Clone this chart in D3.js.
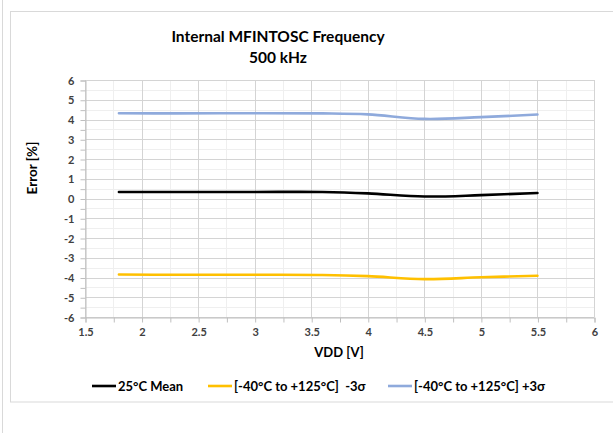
<!DOCTYPE html>
<html><head><meta charset="utf-8">
<script src="https://cdn.jsdelivr.net/npm/d3@7"></script>
<style>
body{margin:0;background:#fff;}
svg{display:block;font-family:Lato,"Open Sans",sans-serif;}
</style></head>
<body><svg id="chart" width="613" height="433"></svg>
<script>
const vdd = [1.8, 2.3, 3.0, 3.6, 4.0, 4.5, 5.0, 5.5];
const mean25 = [0.33, 0.33, 0.33, 0.33, 0.26, 0.10, 0.17, 0.28];
const minus3s = [-3.85, -3.86, -3.86, -3.87, -3.93, -4.08, -3.99, -3.91];
const plus3s = [4.32, 4.31, 4.32, 4.31, 4.26, 4.03, 4.12, 4.25];
const seriesNames = ["25°C Mean", "[-40°C to +125°C]  -3σ", "[-40°C to +125°C] +3σ"];
const seriesColors = ["#000000", "#ffc000", "#8faadc"];
const xTicks = [1.5, 2, 2.5, 3, 3.5, 4, 4.5, 5, 5.5, 6];
const yTicks = [-6, -5, -4, -3, -2, -1, 0, 1, 2, 3, 4, 5, 6];
const titleLines = ["Internal MFINTOSC Frequency", "500 kHz"];
const xTitle = "VDD [V]", yTitle = "Error [%]";

const svg = d3.select("#chart");
// page and chart frame
svg.append("line").attr("x1",2.5).attr("x2",2.5).attr("y1",0).attr("y2",433).attr("stroke","#d9d9d9");
svg.append("rect").attr("x",10.5).attr("y",11.5).attr("width",640).attr("height",390.5)
  .attr("fill","none").attr("stroke","#d9d9d9");

const x = d3.scaleLinear().domain([1.5, 6]).range([85, 594]);
const y = d3.scaleLinear().domain([-6, 6]).range([317, 80]);

// minor grid
const g = svg.append("g");
d3.range(1.75, 6, 0.5).forEach(v => g.append("line").attr("x1",Math.round(x(v))+0.5).attr("x2",Math.round(x(v))+0.5)
  .attr("y1",y(6)).attr("y2",y(-6)).attr("stroke","#efefef"));
d3.range(-5.5, 6, 1).forEach(v => g.append("line").attr("y1",Math.round(y(v))+0.5).attr("y2",Math.round(y(v))+0.5)
  .attr("x1",x(1.5)).attr("x2",x(6)).attr("stroke","#efefef"));
// major grid
xTicks.forEach(v => g.append("line").attr("x1",Math.round(x(v))+0.5).attr("x2",Math.round(x(v))+0.5)
  .attr("y1",y(6)).attr("y2",y(-6)).attr("stroke","#d4d4d4"));
yTicks.forEach(v => g.append("line").attr("y1",Math.round(y(v))+0.5).attr("y2",Math.round(y(v))+0.5)
  .attr("x1",x(1.5)).attr("x2",x(6)).attr("stroke","#d4d4d4"));

// axes
const tickVals = d3.range(-6, 6.01, 0.5);
const yAxis = d3.axisLeft(y).tickValues(tickVals).tickSize(5).tickFormat(d => Number.isInteger(d) ? String(d) : "");
const ya = svg.append("g").attr("transform","translate(85.5,0.5)").call(yAxis);
const xAxis = d3.axisBottom(x).tickValues(d3.range(1.5, 6.01, 0.25)).tickSize(5)
  .tickFormat(d => (d*2) % 1 === 0 ? String(d) : "");
const xa = svg.append("g").attr("transform","translate(0.5,317.5)").call(xAxis);
[ya, xa].forEach(a => {
  a.select(".domain").attr("stroke","#bfbfbf");
  a.selectAll(".tick line").attr("stroke","#bfbfbf");
  a.selectAll("text").attr("fill","#404040").attr("font-size",11).attr("font-weight","bold")
   .attr("font-family","Lato,sans-serif");
});
ya.selectAll("text").attr("x",-11);
xa.selectAll("text").attr("y",11);

// lines
const curve = d3.line().x(d => x(d[0])).y(d => y(d[1])).curve(d3.curveCatmullRom.alpha(0.5));
[mean25, minus3s, plus3s].forEach((s, i) => {
  svg.append("path").datum(vdd.map((v, j) => [v, s[j]]))
    .attr("d", curve).attr("fill","none").attr("stroke", seriesColors[i])
    .attr("stroke-width", 2.6).attr("stroke-linecap","round");
});

// titles
svg.append("text").attr("x",278).attr("y",42).attr("text-anchor","middle")
  .attr("font-size",15.5).attr("font-weight","bold").attr("fill","#000").text(titleLines[0]);
svg.append("text").attr("x",278).attr("y",63).attr("text-anchor","middle")
  .attr("font-size",15.5).attr("font-weight","bold").attr("fill","#000").text(titleLines[1]);
svg.append("text").attr("x",339).attr("y",357).attr("text-anchor","middle")
  .attr("font-size",13).attr("font-weight","bold").attr("fill","#000").text(xTitle);
svg.append("text").attr("transform","translate(37,168) rotate(-90)").attr("text-anchor","middle")
  .attr("font-size",13.5).attr("font-weight","bold").attr("fill","#000").text(yTitle);

// legend
const legX = [92, 208, 388];
seriesNames.forEach((n, i) => {
  svg.append("line").attr("x1",legX[i]).attr("x2",legX[i]+24).attr("y1",386).attr("y2",386)
    .attr("stroke",seriesColors[i]).attr("stroke-width",2.6);
  svg.append("text").attr("x",legX[i]+26).attr("y",391).attr("font-size",13).attr("font-weight","bold")
    .attr("fill","#000").style("white-space","pre").text(n);
});
</script></body></html>
